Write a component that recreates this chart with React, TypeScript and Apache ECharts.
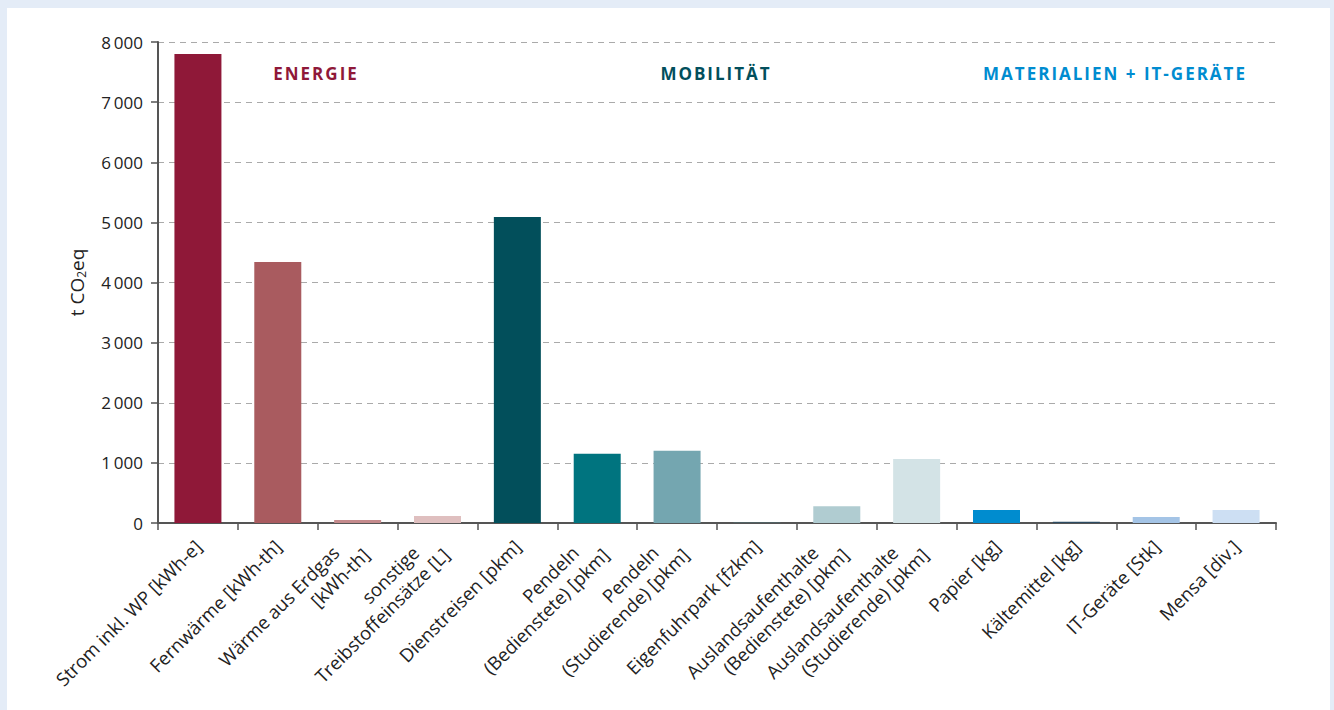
import React, { useEffect, useRef } from "react";
import * as echarts from "echarts";

const categories = [
  "Strom inkl. WP [kWh-e]",
  "Fernwärme [kWh-th]",
  "Wärme aus Erdgas\n[kWh-th]",
  "sonstige\nTreibstoffeinsätze [L]",
  "Dienstreisen [pkm]",
  "Pendeln\n(Bedienstete) [pkm]",
  "Pendeln\n(Studierende) [pkm]",
  "Eigenfuhrpark [fzkm]",
  "Auslandsaufenthalte\n(Bedienstete) [pkm]",
  "Auslandsaufenthalte\n(Studierende) [pkm]",
  "Papier [kg]",
  "Kältemittel [kg]",
  "IT-Geräte [Stk]",
  "Mensa [div.]",
];

const values = [7800, 4340, 50, 115, 5090, 1150, 1200, 3, 280, 1065, 215, 20, 100, 215];

const barColors = [
  "#8f1838", "#a95b5f", "#c48a8c", "#dfbfbf",
  "#024f5b", "#00747f", "#74a6b0", "#4d8a93",
  "#b0ccd1", "#d3e3e6",
  "#008ccf", "#2c4b62", "#a4c4e6", "#cddff3",
];

const groupHeadings = [
  { text: "ENERGIE", color: "#8f1839", x: 316 },
  { text: "MOBILITÄT", color: "#024f5c", x: 716 },
  { text: "MATERIALIEN + IT-GERÄTE", color: "#008cd0", x: 1115 },
];

const FONT = "'Open Sans', 'Noto Sans', sans-serif";
const XF = 18.5;

export default function App() {
  const ref = useRef<HTMLDivElement>(null);
  useEffect(() => {
    if (!ref.current) return;
    const chart = echarts.init(ref.current, undefined, { renderer: "svg" });
    chart.setOption({
      animation: false,
      backgroundColor: "#e4ecf7",
      textStyle: { fontFamily: FONT },
      graphic: [
        {
          type: "rect",
          z: -10,
          silent: true,
          shape: { x: 7, y: 8, width: 1323, height: 720 },
          style: { fill: "#ffffff" },
        },
        ...groupHeadings.map((h) => ({
          type: "text",
          x: h.x,
          y: 73,
          style: {
            text: h.text,
            fill: h.color,
            font: `bold 17px ${FONT}`,
            align: "center",
            verticalAlign: "middle",
          },
        })),
      ],
      grid: { left: 158, right: 58, top: 42, bottom: 187, containLabel: false },
      xAxis: {
        type: "category",
        data: categories,
        axisLine: { lineStyle: { color: "#555555", width: 2 } },
        axisTick: { show: true, length: 7, lineStyle: { color: "#555555", width: 1.5 } },
        axisLabel: {
          interval: 0,
          rotate: 45,
          margin: 20,
          color: "#222222",
          fontSize: XF,
          fontFamily: FONT,
          lineHeight: 23,
          formatter: (v: string) => {
            const parts = v.split("\n");
            if (parts.length === 2) return `{a|${parts[0]}}\n{b|${parts[1]}}`;
            return `{b|${v}}`;
          },
          rich: {
            a: { fontSize: XF, fontFamily: FONT, color: "#222222", lineHeight: 23, padding: [0, 20, 0, 0] },
            b: { fontSize: XF, fontFamily: FONT, color: "#222222", lineHeight: 23 },
          },
        },
      },
      yAxis: {
        type: "value",
        min: 0,
        max: 8000,
        interval: 1000,
        name: "{a|t CO}{s|2}{a|eq}",
        nameLocation: "middle",
        nameGap: 71,
        nameTextStyle: {
          rich: {
            a: { fontSize: 19, fontFamily: FONT, color: "#222222" },
            s: { fontSize: 12, fontFamily: FONT, color: "#222222", padding: [9, 0, 0, 0] },
          },
        },
        axisLine: { show: true, lineStyle: { color: "#555555", width: 2 } },
        axisTick: { show: true, length: 7, lineStyle: { color: "#555555", width: 1.5 } },
        axisLabel: {
          margin: 15,
          color: "#222222",
          fontSize: 17,
          fontFamily: FONT,
          formatter: (v: number) => (v === 0 ? "0" : `${v / 1000}\u2009000`),
        },
        splitLine: { lineStyle: { color: "#aaaaaa", type: [6, 5], width: 1 } },
      },
      series: [
        {
          type: "bar",
          barWidth: 47,
          data: values.map((v, i) => ({ value: v, itemStyle: { color: barColors[i] } })),
        },
      ],
    });
    return () => chart.dispose();
  }, []);
  return (
    <>
      <style>{`svg text[fill="#8f1839"], svg text[fill="#024f5c"], svg text[fill="#008cd0"] { letter-spacing: 2px; }`}</style>
      <div ref={ref} style={{ position: "absolute", left: 0, top: 0, width: 1334, height: 710 }} />
    </>
  );
}
